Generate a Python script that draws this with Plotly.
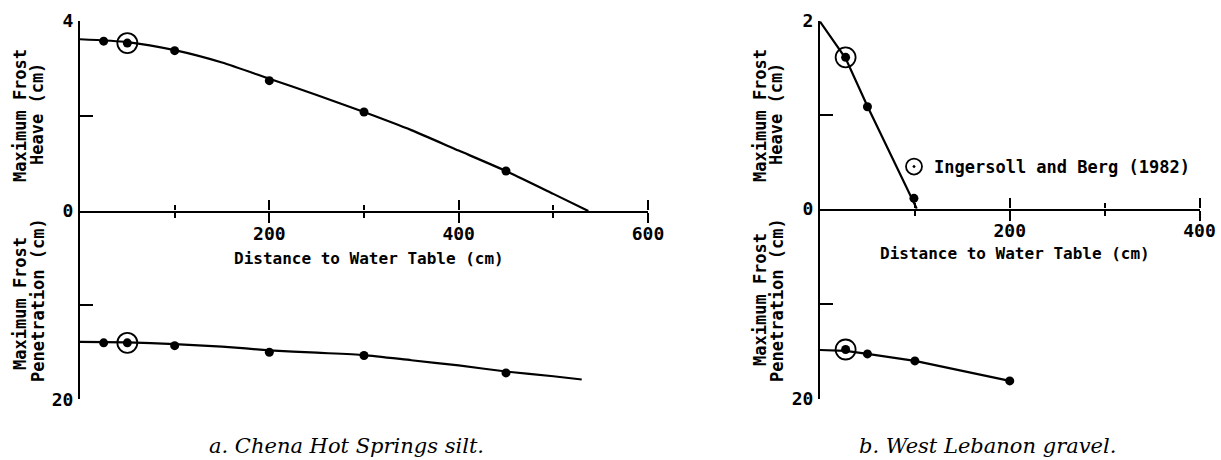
import plotly.graph_objects as go

# ---------------- data ----------------
# a. Chena Hot Springs silt
a_dist = [25, 50, 100, 200, 300, 450]
a_heave = [3.57, 3.53, 3.37, 2.74, 2.08, 0.84]
a_pen = [14.0, 14.0, 14.3, 15.0, 15.35, 17.2]
a_ref_dist = [50]
a_ref_heave = [3.53]
a_ref_pen = [14.0]
a_curve_dist = [0, 50, 100, 150, 200, 250, 300, 350, 400, 450, 500, 537]
a_curve_heave = [3.61, 3.55, 3.38, 3.12, 2.78, 2.44, 2.08, 1.70, 1.27, 0.84, 0.36, 0.0]
a_curve_pen_dist = [0, 50, 100, 150, 200, 250, 300, 350, 400, 450, 500, 530]
a_curve_pen = [13.9, 13.95, 14.15, 14.4, 14.8, 15.05, 15.3, 15.85, 16.4, 17.05, 17.55, 17.9]

# b. West Lebanon gravel
b_dist = [27, 50, 99]
b_heave = [1.61, 1.085, 0.11]
b_pen_dist = [27, 50, 100, 200]
b_pen = [14.8, 15.26, 16.0, 18.1]
b_ref_dist = [27]
b_ref_heave = [1.61]
b_ref_pen = [14.8]
b_line_dist = [0, 27, 50, 102]
b_line_heave = [1.99, 1.6, 1.09, 0.0]
b_line_pen_dist = [0, 27, 50, 100, 200]
b_line_pen = [14.85, 14.95, 15.25, 16.0, 18.1]

a_xticks = [200, 400, 600]
a_xminor = [100, 300, 500]
b_xticks = [200, 400]
b_xminor = [100, 300]

legend_label = "Ingersoll and Berg (1982)"
x_title = "Distance to Water Table (cm)"
caption_a = "a. Chena Hot Springs silt."
caption_b = "b. West Lebanon gravel."

# ---------------- layout helpers ----------------
W, H = 1221, 460
def px(x):
    return x / W
def py(y):
    return (H - y) / H

MONO = "DejaVu Sans Mono"
SERIF = "DejaVu Serif"
BLACK = "black"

fig = go.Figure()

def line(x, y, xa, ya, shape="linear"):
    fig.add_trace(go.Scatter(x=x, y=y, xaxis=xa, yaxis=ya, mode="lines",
                             line=dict(color=BLACK, width=2.2, shape=shape, smoothing=0.6),
                             showlegend=False, hoverinfo="skip"))

def dots(x, y, xa, ya):
    fig.add_trace(go.Scatter(x=x, y=y, xaxis=xa, yaxis=ya, mode="markers",
                             marker=dict(color=BLACK, size=9), cliponaxis=False,
                             showlegend=False))

def rings(x, y, xa, ya, legend=False):
    fig.add_trace(go.Scatter(x=x, y=y, xaxis=xa, yaxis=ya, mode="markers",
                             name=legend_label,
                             marker=dict(symbol="circle-open-dot", size=20, color=BLACK,
                                         line=dict(width=1.8, color=BLACK)),
                             cliponaxis=False, showlegend=legend))

# panel a
line(a_curve_dist, a_curve_heave, "x", "y", "spline")
dots(a_dist, a_heave, "x", "y")
rings(a_ref_dist, a_ref_heave, "x", "y")
line(a_curve_pen_dist, a_curve_pen, "x2", "y2", "spline")
dots(a_dist, a_pen, "x2", "y2")
rings(a_ref_dist, a_ref_pen, "x2", "y2")

# panel b
line(b_line_dist, b_line_heave, "x3", "y3")
dots(b_dist, b_heave, "x3", "y3")
rings(b_ref_dist, b_ref_heave, "x3", "y3", legend=True)
line(b_line_pen_dist, b_line_pen, "x4", "y4")
dots(b_pen_dist, b_pen, "x4", "y4")
rings(b_ref_dist, b_ref_pen, "x4", "y4")

tickfont = dict(family=MONO, size=18, color=BLACK, weight="bold")

def xaxis(domain, rng, anchor, ticks, minor, side="bottom", labels=True):
    return dict(domain=domain, range=rng, anchor=anchor, side=side, automargin=False,
                showline=labels, linewidth=2, linecolor=BLACK,
                showgrid=False, zeroline=False,
                ticks="outside", ticklen=10, tickwidth=2, tickcolor=BLACK,
                tickmode="array", tickvals=ticks, showticklabels=labels,
                tickfont=tickfont, ticklabelstandoff=-5,
                minor=dict(tickmode="array", tickvals=minor, ticks="outside",
                           ticklen=5, tickwidth=2, tickcolor=BLACK, showgrid=False))

def yaxis(domain, rng, anchor, ticks, minor):
    return dict(domain=domain, range=rng, anchor=anchor, automargin=False,
                showline=True, linewidth=2, linecolor=BLACK,
                showgrid=False, zeroline=False,
                ticks="inside", ticklen=19, tickwidth=2, tickcolor=BLACK,
                tickmode="array", tickvals=ticks, tickfont=tickfont,
                ticklabelstandoff=1,
                minor=dict(tickmode="array", tickvals=minor, ticks="inside",
                           ticklen=13, tickwidth=2, tickcolor=BLACK, showgrid=False))

a_dom_x = [px(80), px(648)]
b_dom_x = [px(820), px(1199.5)]

fig.update_layout(
    width=W, height=H,
    margin=dict(l=0, r=0, t=0, b=0, pad=0, autoexpand=False),
    paper_bgcolor="white", plot_bgcolor="white",
    xaxis=xaxis(a_dom_x, [0, 600], "y", a_xticks, a_xminor),
    xaxis2=xaxis(a_dom_x, [0, 600], "y2", a_xticks, a_xminor, side="top", labels=False),
    xaxis3=xaxis(b_dom_x, [0, 400], "y3", b_xticks, b_xminor),
    xaxis4=xaxis(b_dom_x, [0, 400], "y4", b_xticks, b_xminor, side="top", labels=False),
    yaxis=yaxis([py(211), py(20.7)], [0, 4], "x", [0, 4], [2]),
    yaxis2=yaxis([py(399.3), py(211)], [20, 0], "x2", [20], [10]),
    yaxis3=yaxis([py(208.7), py(20.7)], [0, 2], "x3", [0, 2], [1]),
    yaxis4=yaxis([py(399), py(208.7)], [20, 0], "x4", [20], [10]),
    showlegend=True,
    legend=dict(x=px(894), y=py(149), xanchor="left", yanchor="top",
                bgcolor="rgba(0,0,0,0)", borderwidth=0,
                font=dict(family=MONO, size=17, color=BLACK, weight="bold")),
)

ann = []
def label(text, x, y, size=17, angle=-90, family=MONO, weight="bold", style="normal"):
    ann.append(dict(text=text, x=px(x), y=py(y), xref="paper", yref="paper",
                    showarrow=False, textangle=angle, xanchor="center", yanchor="middle",
                    font=dict(family=family, size=size, color=BLACK, weight=weight, style=style)))

# y labels
label("Maximum Frost", 20, 116)
label("Heave (cm)", 37, 114)
label("Maximum Frost", 20, 304)
label("Penetration (cm)", 38, 300)
label("Maximum Frost", 760, 116)
label("Heave (cm)", 776, 114)
label("Maximum Frost", 760, 300)
label("Penetration (cm)", 777, 300)
# x titles
label(x_title, 369, 258, size=16, angle=0)
label(x_title, 1015, 254, size=16, angle=0)
# captions
label(caption_a, 346, 446, size=21, angle=0, family=SERIF, weight="normal", style="italic")
label(caption_b, 987, 446, size=21, angle=0, family=SERIF, weight="normal", style="italic")

fig.update_layout(annotations=ann)
fig.write_html("out.html", config={"displayModeBar": False},
               post_script="document.body.style.margin='0';document.body.style.overflow='hidden';")
